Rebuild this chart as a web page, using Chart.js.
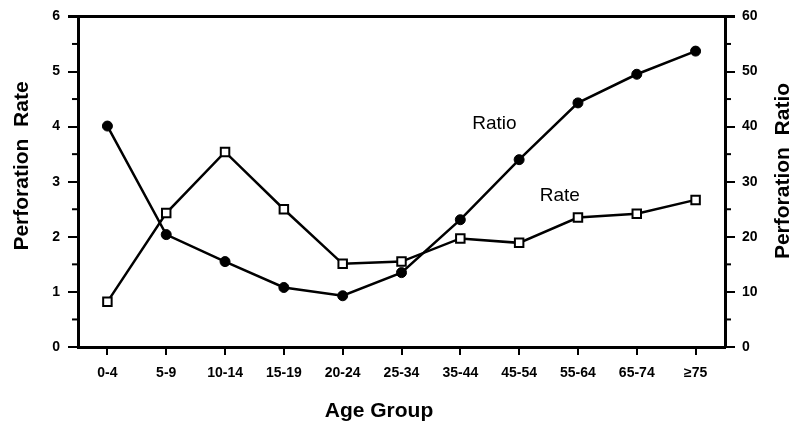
<!DOCTYPE html>
<html>
<head>
<meta charset="utf-8">
<script src="https://cdn.jsdelivr.net/npm/chart.js@4"></script>
<style>
  body { margin: 0; background: #fff; }
</style>
</head>
<body>
<canvas id="js--chart" width="792" height="424"></canvas>
<script>
const ageGroups = ['0-4', '5-9', '10-14', '15-19', '20-24', '25-34', '35-44', '45-54', '55-64', '65-74', '\u226575'];
const rate = [0.82, 2.43, 3.54, 2.5, 1.51, 1.55, 1.97, 1.89, 2.35, 2.42, 2.67];
const ratio = [40.1, 20.4, 15.5, 10.8, 9.3, 13.5, 23.1, 34.0, 44.3, 49.5, 53.7];

const fontName = '"Liberation Sans", Arial, sans-serif';

// kleine tickjes, bovenrand, titels en tekst bij de lijnen
const extraPlugin = {
  id: 'extra',
  afterDraw(chart) {
    const ctx = chart.ctx;
    const area = chart.chartArea;
    const x = chart.scales.x;
    const y = chart.scales.y;
    const y1 = chart.scales.y1;

    ctx.save();
    ctx.strokeStyle = '#000';
    ctx.lineWidth = 2;
    for (let v = 0.5; v < 6; v++) {
      const py = y.getPixelForValue(v);
      ctx.beginPath();
      ctx.moveTo(area.left - 6, py);
      ctx.lineTo(area.left, py);
      ctx.stroke();
    }
    for (let v = 5; v < 60; v += 10) {
      const py = y1.getPixelForValue(v);
      ctx.beginPath();
      ctx.moveTo(area.right, py);
      ctx.lineTo(area.right + 6, py);
      ctx.stroke();
    }

    ctx.lineWidth = 3;
    ctx.beginPath();
    ctx.moveTo(area.left - 10, area.top);
    ctx.lineTo(area.right + 10, area.top);
    ctx.stroke();

    ctx.fillStyle = '#000';
    ctx.font = '19px ' + fontName;
    ctx.textAlign = 'center';
    ctx.textBaseline = 'middle';
    ctx.fillText('Ratio', x.getPixelForValue(6.58), y1.getPixelForValue(40.6));
    ctx.fillText('Rate', x.getPixelForValue(7.69), y.getPixelForValue(2.74));

    ctx.font = 'bold 21px ' + fontName;
    ctx.fillText('Age Group', 379, 411);

    ctx.save();
    ctx.translate(22, 166);
    ctx.rotate(-Math.PI / 2);
    ctx.fillText('Perforation  Rate', 0, 0);
    ctx.restore();

    ctx.save();
    ctx.translate(783, 171);
    ctx.rotate(-Math.PI / 2);
    ctx.fillText('Perforation  Ratio', 0, 0);
    ctx.restore();

    ctx.restore();
  }
};

const tickFont = { family: fontName, size: 14, weight: 'bold' };

const config = {
  type: 'line',
  data: {
    labels: ageGroups,
    datasets: [
      {
        label: 'Ratio',
        data: ratio,
        yAxisID: 'y1',
        borderColor: '#000',
        borderWidth: 2.5,
        backgroundColor: '#000',
        pointStyle: 'circle',
        pointRadius: 5,
        pointBorderWidth: 1,
        pointBorderColor: '#000',
        pointBackgroundColor: '#000',
        tension: 0
      },
      {
        label: 'Rate',
        data: rate,
        yAxisID: 'y',
        borderColor: '#000',
        borderWidth: 2.5,
        pointStyle: 'rect',
        pointRadius: 6,
        pointBorderWidth: 2,
        pointBorderColor: '#000',
        pointBackgroundColor: '#fff',
        tension: 0
      }
    ]
  },
  options: {
    responsive: false,
    animation: false,
    layout: { padding: { top: 15, left: 0, right: 0, bottom: 0 } },
    plugins: {
      legend: { display: false },
      tooltip: { enabled: false }
    },
    scales: {
      x: {
        offset: true,
        grid: {
          offset: false,
          drawOnChartArea: false,
          drawTicks: true,
          tickLength: 8,
          color: '#000',
          lineWidth: 2
        },
        border: { display: true, color: '#000', width: 3 },
        ticks: { color: '#000', font: tickFont, padding: 10, maxRotation: 0, autoSkip: false },
        title: { display: false },
        afterFit: function(scale) { scale.height = 77; }
      },
      y: {
        position: 'left',
        min: 0,
        max: 6,
        ticks: { stepSize: 1, color: '#000', font: tickFont, padding: 8 },
        grid: { drawOnChartArea: false, drawTicks: true, tickLength: 10, color: '#000', lineWidth: 2 },
        border: { display: true, color: '#000', width: 3 },
        title: { display: false },
        afterFit: function(scale) { scale.width = 78; }
      },
      y1: {
        position: 'right',
        min: 0,
        max: 60,
        ticks: { stepSize: 10, color: '#000', font: tickFont, padding: 7 },
        grid: { drawOnChartArea: false, drawTicks: true, tickLength: 10, color: '#000', lineWidth: 2 },
        border: { display: true, color: '#000', width: 3 },
        title: { display: false },
        afterFit: function(scale) { scale.width = 67; }
      }
    }
  },
  plugins: [extraPlugin]
};

const chart1 = new Chart(document.getElementById('js--chart'), config);
</script>
</body>
</html>
